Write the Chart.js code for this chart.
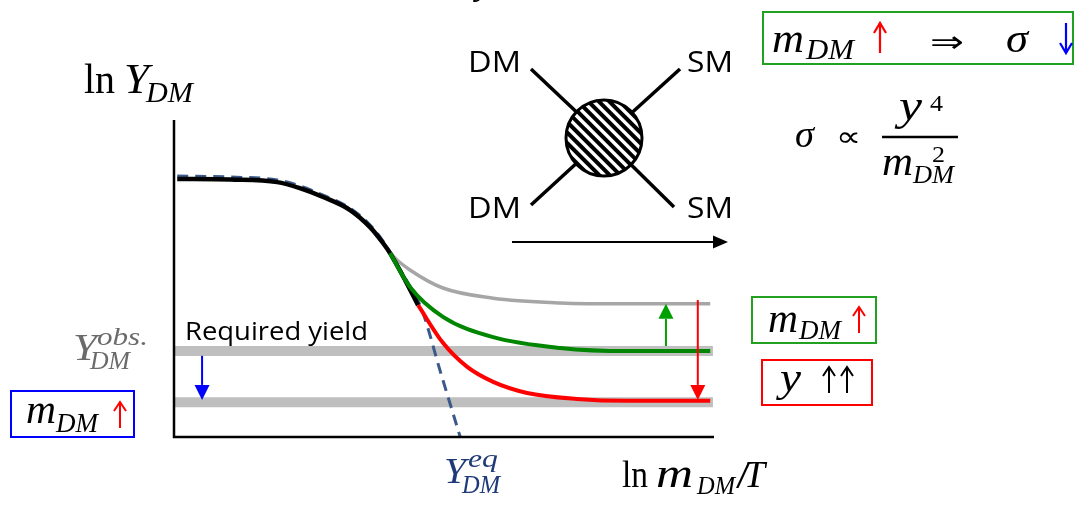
<!DOCTYPE html>
<html><head><meta charset="utf-8">
<script src="https://cdn.jsdelivr.net/npm/chart.js@4.4.1/dist/chart.umd.min.js"></script>
<style>html,body{margin:0;padding:0;background:#fff;overflow:hidden}#wrap{width:1076px;height:506px;position:relative}</style>
</head><body><div id="wrap"><canvas id="c" width="1076" height="506"></canvas></div>
<script>
// ---- data (x: ln m_DM/T, y: ln Y_DM, arbitrary schematic units 0..10) ----
const xFreeze = [0.06, 1.04, 1.91, 2.33, 2.76, 3.26, 3.63, 3.87, 4.00, 4.28, 4.52];
const yFreeze = [8.14, 8.12, 8.04, 7.85, 7.57, 7.16, 6.62, 6.12, 5.80, 4.95, 4.16];
const xWeak = [3.87, 4.09, 4.37, 4.98, 5.91, 7.15, 8.39, 9.93];
const yWeak = [6.12, 5.65, 5.27, 4.70, 4.38, 4.23, 4.20, 4.20];
const xHeavy = [4.00, 4.37, 4.98, 5.91, 7.15, 8.39, 9.93];
const yHeavy = [5.80, 4.73, 3.79, 3.15, 2.81, 2.71, 2.71];
const xCoupled = [4.52, 4.98, 5.43, 5.91, 6.54, 7.46, 8.39, 9.93];
const yCoupled = [4.16, 2.97, 2.21, 1.74, 1.39, 1.20, 1.14, 1.14];
const xEq = [0.06, 1.04, 1.91, 2.33, 2.76, 3.26, 3.63, 3.87, 4.19, 4.59, 4.94, 5.30];
const yEq = [8.23, 8.20, 8.11, 7.92, 7.63, 7.22, 6.69, 6.18, 5.27, 4.01, 2.02, 0.00];
const obsLevels = [2.71, 1.10];
const bandX = [0, 9.98];
const arrowX = [9.11, 9.70, 0.52];
const arrowFrom = [2.87, 4.32, 2.56];
const arrowTo = [4.20, 1.17, 1.17];
const arrowColors = ['#00a000', '#ff0000', '#0000ff'];

const pts = (xs, ys) => xs.map((x, i) => ({x, y: ys[i]}));
const common = {pointRadius: 0, fill: false, cubicInterpolationMode: 'monotone', clip: false, borderCapStyle: 'butt'};

const SERIF = '"Liberation Serif"';
const SANS = '"Open Sans"';
function put(ctx, t, x, y, font, color, w) {
  ctx.save();
  ctx.font = font; ctx.fillStyle = color || '#000';
  ctx.textBaseline = 'alphabetic'; ctx.textAlign = 'left';
  if (w) { const m = ctx.measureText(t).width; ctx.translate(x, y); ctx.scale(w / m, 1); ctx.fillText(t, 0, 0); }
  else ctx.fillText(t, x, y);
  ctx.restore();
}
function vArrowOpen(ctx, x, y1, y2, color, lw, hw, hl) {
  const d = y2 < y1 ? 1 : -1;
  ctx.save(); ctx.strokeStyle = color; ctx.lineWidth = lw; ctx.lineCap = 'butt';
  ctx.beginPath(); ctx.moveTo(x, y1); ctx.lineTo(x, y2); ctx.stroke();
  ctx.beginPath(); ctx.moveTo(x - hw, y2 + d * hl); ctx.lineTo(x, y2); ctx.lineTo(x + hw, y2 + d * hl); ctx.stroke();
  ctx.restore();
}
function arrowFilled(ctx, x1, y1, x2, y2, color, lw, hl, hw) {
  const a = Math.atan2(y2 - y1, x2 - x1);
  const bx = x2 - hl * Math.cos(a), by = y2 - hl * Math.sin(a);
  ctx.save(); ctx.strokeStyle = color; ctx.fillStyle = color; ctx.lineWidth = lw;
  ctx.beginPath(); ctx.moveTo(x1, y1); ctx.lineTo(bx, by); ctx.stroke();
  ctx.beginPath(); ctx.moveTo(x2, y2);
  ctx.lineTo(bx + hw * Math.sin(a), by - hw * Math.cos(a));
  ctx.lineTo(bx - hw * Math.sin(a), by + hw * Math.cos(a));
  ctx.closePath(); ctx.fill();
  ctx.restore();
}

const deco = {
  id: 'deco',
  afterDatasetsDraw(chart) {
    const ctx = chart.ctx, xs = chart.scales.x, ys = chart.scales.y;
    ctx.save(); ctx.strokeStyle = '#000'; ctx.lineWidth = 2.5; ctx.lineCap = 'butt';
    ctx.beginPath();
    ctx.moveTo(xs.getPixelForValue(0), ys.getPixelForValue(10));
    ctx.lineTo(xs.getPixelForValue(0), ys.getPixelForValue(0));
    ctx.lineTo(xs.getPixelForValue(10), ys.getPixelForValue(0));
    ctx.stroke(); ctx.restore();
    arrowX.forEach((ax, i) => {
      arrowFilled(ctx, xs.getPixelForValue(ax), ys.getPixelForValue(arrowFrom[i]),
        xs.getPixelForValue(ax), ys.getPixelForValue(arrowTo[i]), arrowColors[i], 2, 15, 7.5);
    });
  },
  afterDraw(chart) {
    const ctx = chart.ctx;
    // ---- axis titles ----
    put(ctx, 'ln', 84, 93, `42px ${SERIF}`, '#000', 31);
    put(ctx, 'Y', 124, 93, `italic 42px ${SERIF}`, '#000', 25);
    put(ctx, 'DM', 146, 102, `italic 29px ${SERIF}`, '#000', 47);

    put(ctx, 'ln', 622, 487, `38px ${SERIF}`, '#000', 26);
    put(ctx, 'm', 656, 487, `italic 41px ${SERIF}`, '#000', 37);
    put(ctx, 'DM', 697, 494, `italic 26px ${SERIF}`, '#000', 38);
    put(ctx, '/', 736, 488, `38px ${SERIF}`, '#000', 14);
    put(ctx, 'T', 744, 487, `italic 38px ${SERIF}`, '#000', 21);

    // Y_DM^eq
    put(ctx, 'Y', 444, 483, `italic 35px ${SERIF}`, '#1f3a78', 22);
    put(ctx, 'eq', 468, 467, `italic 26px ${SERIF}`, '#1f3a78', 30);
    put(ctx, 'DM', 462, 493, `italic 25px ${SERIF}`, '#1f3a78', 38);

    // Y_DM^obs.
    put(ctx, 'Y', 73, 360, `italic 37px ${SERIF}`, '#6b6b6b', 24);
    put(ctx, 'obs.', 97, 345, `italic 26px ${SERIF}`, '#6b6b6b', 51);
    put(ctx, 'DM', 90, 369, `italic 26px ${SERIF}`, '#6b6b6b', 40);

    put(ctx, 'Required yield', 185, 340, `25px ${SANS}`, '#000', 183);

    // cut-off glyph at top
    put(ctx, 'y', 476, -6, `italic 36px ${SERIF}`, '#000');

    // ---- boxes ----
    ctx.save(); ctx.lineWidth = 2;
    ctx.strokeStyle = '#0000ff'; ctx.strokeRect(11, 391, 123, 46);
    ctx.strokeStyle = '#22a022'; ctx.strokeRect(752, 297, 124, 46);
    ctx.strokeStyle = '#ff0000'; ctx.strokeRect(762, 360, 110, 45);
    ctx.strokeStyle = '#22a022'; ctx.strokeRect(763, 12, 310, 52);
    ctx.restore();

    // blue box: m_DM ↑
    put(ctx, 'm', 26, 423, `italic 39px ${SERIF}`, '#000', 30);
    put(ctx, 'DM', 56, 432, `italic 27px ${SERIF}`, '#000', 42);
    vArrowOpen(ctx, 120, 428, 402, '#ff0000', 2, 6, 9);
    // green box: m_DM ↑
    put(ctx, 'm', 768, 332, `italic 39px ${SERIF}`, '#000', 30);
    put(ctx, 'DM', 799, 339, `italic 27px ${SERIF}`, '#000', 42);
    vArrowOpen(ctx, 859, 333, 307, '#ff0000', 2, 6, 9);
    // red box: y ↑↑
    put(ctx, 'y', 780, 391, `italic 42px ${SERIF}`, '#000', 21);
    vArrowOpen(ctx, 829, 393, 367, '#000', 2, 6, 9);
    vArrowOpen(ctx, 847, 393, 367, '#000', 2, 6, 9);
    // top box: m_DM ↑ ⇒ σ ↓
    put(ctx, 'm', 772, 52, `italic 42px ${SERIF}`, '#000', 32);
    put(ctx, 'DM', 806, 59, `italic 29px ${SERIF}`, '#000', 48);
    vArrowOpen(ctx, 880, 53, 23, '#ff0000', 2.2, 6, 10);
    put(ctx, '⇒', 930, 52, `30px "DejaVu Sans"`, '#000', 34);
    put(ctx, 'σ', 1006, 52, `italic 40px ${SERIF}`, '#000', 22);
    vArrowOpen(ctx, 1066, 23, 53, '#0000ff', 2.2, 6, 10);

    // σ ∝ y^4 / m_DM^2
    put(ctx, 'σ', 795, 147, `italic 38px ${SERIF}`, '#000', 19);
    put(ctx, '∝', 836, 146, `28px "DejaVu Sans"`, '#000', 25);
    ctx.save(); ctx.strokeStyle = '#000'; ctx.lineWidth = 2.5;
    ctx.beginPath(); ctx.moveTo(882, 137); ctx.lineTo(958, 137); ctx.stroke(); ctx.restore();
    put(ctx, 'y', 899, 120, `italic 44px ${SERIF}`, '#000', 23);
    put(ctx, '4', 930, 111, `23px ${SERIF}`, '#000', 13);
    put(ctx, 'm', 882, 175, `italic 40px ${SERIF}`, '#000', 31);
    put(ctx, '2', 932, 162, `23px ${SERIF}`, '#000', 13);
    put(ctx, 'DM', 913, 183, `italic 26px ${SERIF}`, '#000', 41);

    // ---- scattering diagram ----
    const cx = 604, cy = 138, r = 38;
    ctx.save(); ctx.strokeStyle = '#000'; ctx.lineWidth = 3.5; ctx.lineCap = 'butt';
    [[531, 69], [680, 69], [531, 205], [674, 207]].forEach(([px, py]) => {
      ctx.beginPath(); ctx.moveTo(px, py); ctx.lineTo(cx, cy); ctx.stroke();
    });
    ctx.beginPath(); ctx.arc(cx, cy, r, 0, Math.PI * 2); ctx.fillStyle = '#fff'; ctx.fill();
    ctx.save(); ctx.clip();
    ctx.lineWidth = 4;
    for (let k = -10; k <= 10; k++) {
      const off = k * 7.4 * Math.SQRT2;
      ctx.beginPath(); ctx.moveTo(cx - 60 + off, cy - 60); ctx.lineTo(cx + 60 + off, cy + 60); ctx.stroke();
    }
    ctx.restore();
    ctx.beginPath(); ctx.arc(cx, cy, r, 0, Math.PI * 2); ctx.lineWidth = 3; ctx.stroke();
    ctx.restore();
    put(ctx, 'DM', 468, 72, `30px ${SANS}`, '#000', 53);
    put(ctx, 'DM', 468, 218, `30px ${SANS}`, '#000', 53);
    put(ctx, 'SM', 687, 72, `30px ${SANS}`, '#000', 46);
    put(ctx, 'SM', 687, 218, `30px ${SANS}`, '#000', 46);
    arrowFilled(ctx, 512, 242, 728, 242, '#000', 2, 15, 6.5);
  }
};

new Chart(document.getElementById('c'), {
  type: 'line',
  data: {
    datasets: [
      {...common, label: 'large coupling', data: pts(xCoupled, yCoupled), borderColor: '#ff0000', borderWidth: 4},
      {...common, label: 'heavier DM', data: pts(xHeavy, yHeavy), borderColor: '#008600', borderWidth: 4},
      {...common, label: 'Y_DM', data: pts(xFreeze, yFreeze), borderColor: '#000000', borderWidth: 4.5},
      {...common, label: 'reference', data: pts(xWeak, yWeak), borderColor: '#a6a6a6', borderWidth: 3.5},
      {...common, label: 'Y_eq', data: pts(xEq, yEq), borderColor: '#3b5a8a', borderWidth: 3, borderDash: [11, 7]},
      {...common, label: 'obs 1', data: pts(bandX, [obsLevels[0], obsLevels[0]]), borderColor: '#bfbfbf', borderWidth: 10},
      {...common, label: 'obs 2', data: pts(bandX, [obsLevels[1], obsLevels[1]]), borderColor: '#bfbfbf', borderWidth: 10}
    ]
  },
  options: {
    responsive: false, animation: false, devicePixelRatio: 1,
    layout: {padding: {left: 174, right: 362, top: 120, bottom: 69}},
    plugins: {legend: {display: false}, tooltip: {enabled: false}},
    scales: {
      x: {type: 'linear', min: 0, max: 10, display: false},
      y: {type: 'linear', min: 0, max: 10, display: false}
    }
  },
  plugins: [deco]
});
</script></body></html>
